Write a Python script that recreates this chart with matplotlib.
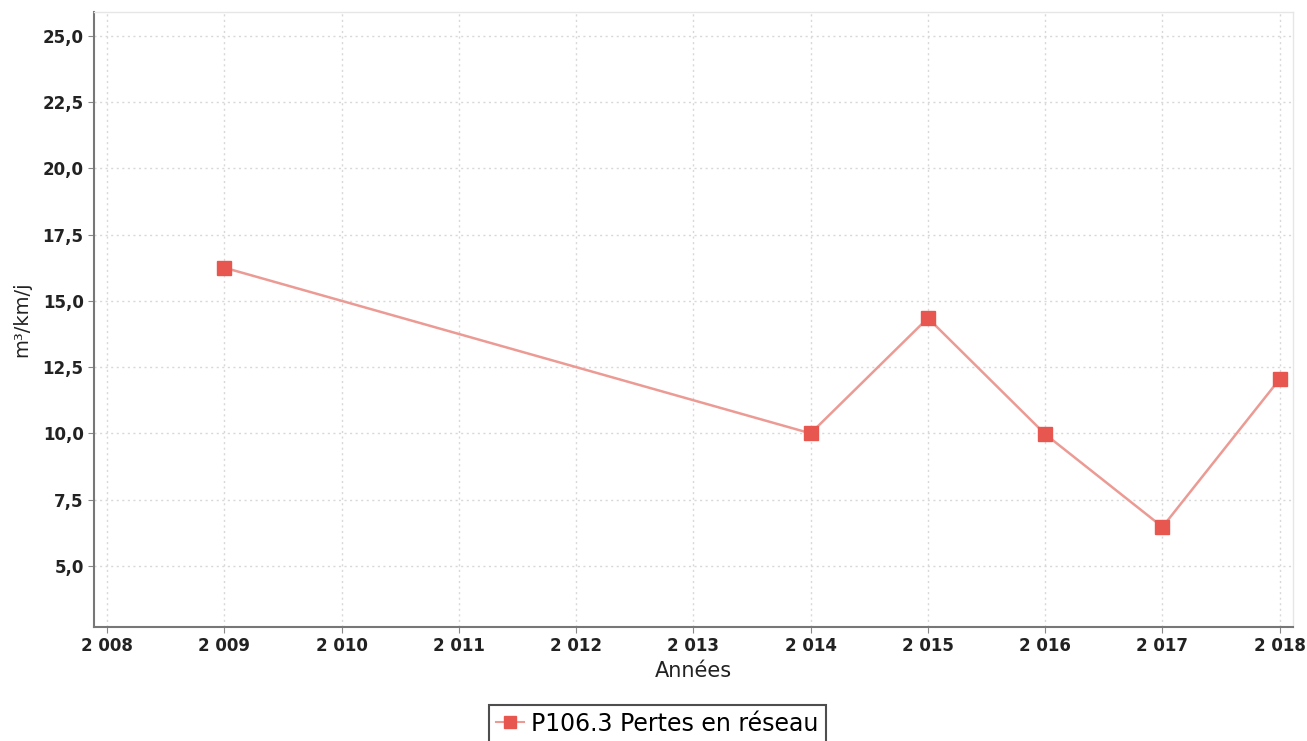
import matplotlib as mpl
import matplotlib.pyplot as plt
from matplotlib.ticker import FuncFormatter, MultipleLocator
from matplotlib.lines import Line2D

years = [2009, 2014, 2015, 2016, 2017, 2018]
pertes = [16.25, 10.0, 14.35, 9.97, 6.47, 12.05]
series_label = "P106.3 Pertes en réseau"
x_label = "Années"
y_label = "m³/km/j"

mpl.rcParams['font.family'] = 'DejaVu Sans'

fig = plt.figure(figsize=(13.07, 7.41), dpi=100)
ax = fig.add_axes([0.072, 0.154, 0.917, 0.83])

ax.plot(years, pertes, color='#ec9a94', linewidth=1.8, zorder=2)
ax.plot(years, pertes, linestyle='none', marker='s', markersize=10,
        color='#e8574f', zorder=3)

ax.set_xlim(2007.89, 2018.11)
ax.set_ylim(2.7, 25.9)
ax.xaxis.set_major_locator(MultipleLocator(1))
ax.set_yticks([5.0, 7.5, 10.0, 12.5, 15.0, 17.5, 20.0, 22.5, 25.0])

ax.xaxis.set_major_formatter(FuncFormatter(lambda v, p: "{} {:03d}".format(int(v) // 1000, int(v) % 1000)))
ax.yaxis.set_major_formatter(FuncFormatter(lambda v, p: "{:.1f}".format(v).replace('.', ',')))

ax.grid(True, color='#d8d8d8', linestyle=(0, (1.5, 2.5)), linewidth=1.0)
ax.tick_params(axis='both', labelsize=12, colors='#888888', length=4, labelcolor='#222222')
for lab in ax.get_xticklabels() + ax.get_yticklabels():
    lab.set_fontweight('bold')

for side in ['left', 'bottom']:
    ax.spines[side].set_color('#777777')
    ax.spines[side].set_linewidth(1.5)
for side in ['top', 'right']:
    ax.spines[side].set_color('#e6e6e6')
    ax.spines[side].set_linewidth(1.0)

ax.set_xlabel(x_label, fontsize=15, color='#222222', labelpad=4)
ax.set_ylabel(y_label, fontsize=14, color='#222222', labelpad=8)

handle = Line2D([], [], color='#ec9a94', linewidth=1.5, marker='s',
                markersize=9, markerfacecolor='#e8574f', markeredgecolor='#e8574f')
leg = fig.legend([handle], [series_label], loc='lower center',
                 bbox_to_anchor=(0.503, -0.012), fontsize=17, frameon=True,
                 fancybox=False, edgecolor='#222222', handlelength=1.2,
                 handletextpad=0.3, borderpad=0.3, borderaxespad=0.3)
leg.get_frame().set_linewidth(1.5)

fig.savefig("out.png", dpi=100)
